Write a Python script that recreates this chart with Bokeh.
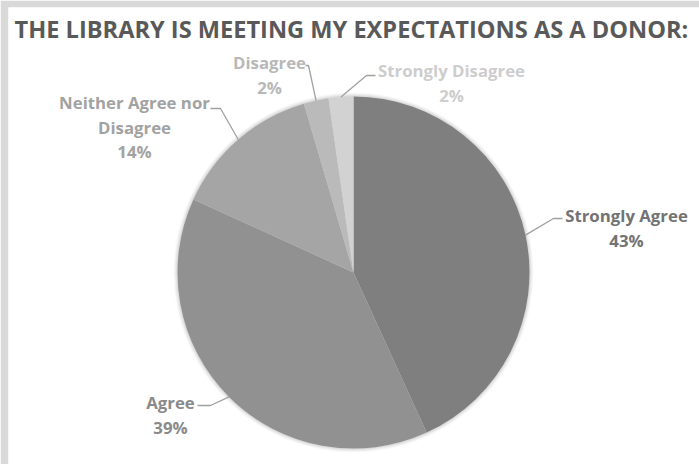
import numpy as np
from bokeh.plotting import figure
from bokeh.models import Range1d
from bokeh.core.properties import value
from bokeh.embed import file_html
from bokeh.resources import INLINE

# ---- data ----
title_text = "THE LIBRARY IS MEETING MY EXPECTATIONS AS A DONOR:"
categories = ["Strongly Agree", "Agree", "Neither Agree nor Disagree", "Disagree", "Strongly Disagree"]
counts = [19, 17, 6, 1, 1]
pct_labels = ["43%", "39%", "14%", "2%", "2%"]
label_lines = [["Strongly Agree"], ["Agree"], ["Neither Agree nor", "Disagree"], ["Disagree"], ["Strongly Disagree"]]

# ---- styling / layout ----
slice_colors = ["#7f7f7f", "#919191", "#a5a5a5", "#bababa", "#d2d2d2"]
text_colors = ["#737373", "#8a8a8a", "#a2a2a2", "#b8b8b8", "#cdcdcd"]
W, H = 699, 464
CX, CY_IMG, R = 353, 272, 176
FONT = "Open Sans"
# label block centre (x, y of first line in image px)
label_pos = [(626, 215), (170, 402), (134, 102), (269, 62), (451, 70)]
# leader elbow points (image px): start at label side, elbow
leader_pts = [((562, 218), (553, 218)),
              ((197, 405), (210, 405)),
              ((210, 108), (220, 108)),
              ((305, 65), (308, 65)),
              ((375, 75), (366, 75))]
LINE_GAP = 24.5

def Y(y_img):
    return H - y_img

p = figure(width=W, height=H, output_backend="svg", toolbar_location=None,
           x_range=Range1d(8, W), y_range=Range1d(0, H - 7),
           x_axis_type=None, y_axis_type=None,
           min_border_left=8, min_border_right=0, min_border_top=7, min_border_bottom=0)
p.background_fill_color = "white"
p.border_fill_color = "#d9d9d9"
p.outline_line_color = None
p.grid.visible = False

cy = Y(CY_IMG)
vals = np.array(counts, dtype=float)
frac = vals / vals.sum()
cum = np.concatenate([[0], np.cumsum(frac)])
starts = np.pi / 2 - 2 * np.pi * cum[:-1]
ends = np.pi / 2 - 2 * np.pi * cum[1:]

# soft shadow ring
for dr, a in [(4.0, 0.05), (3.0, 0.07), (2.0, 0.09), (1.0, 0.12)]:
    p.circle(x=[CX], y=[cy], radius=R + dr, fill_color="#808080", fill_alpha=a, line_color=None)

p.wedge(x=CX, y=cy, radius=R, start_angle=starts, end_angle=ends, direction="clock",
        fill_color=slice_colors, line_color=None)

# leader lines
mids = 2 * np.pi * (cum[:-1] + cum[1:]) / 2
for i in range(len(categories)):
    ex = CX + R * np.sin(mids[i])
    ey = cy + R * np.cos(mids[i])
    (ax, ay), (bx, by) = leader_pts[i]
    p.line(x=[ax, bx, ex], y=[Y(ay), Y(by), ey], line_color="#a0a0a0", line_width=1.3)

# labels
for i in range(len(categories)):
    lx, ly = label_pos[i]
    lines = label_lines[i] + [pct_labels[i]]
    ys = [Y(ly + k * LINE_GAP) for k in range(len(lines))]
    p.text(x=[lx] * len(lines), y=ys, text=lines, text_align="center", text_baseline="middle",
           text_font=value(FONT), text_font_style="bold", text_font_size=value("16.8px"),
           text_color=text_colors[i])

# title
p.text(x=[14], y=[Y(28)], text=[title_text], text_align="left", text_baseline="middle",
       text_font=value(FONT), text_font_style="bold", text_font_size=value("23.6px"),
       text_color="#595959")

open("out.html", "w").write(file_html(p, INLINE))
